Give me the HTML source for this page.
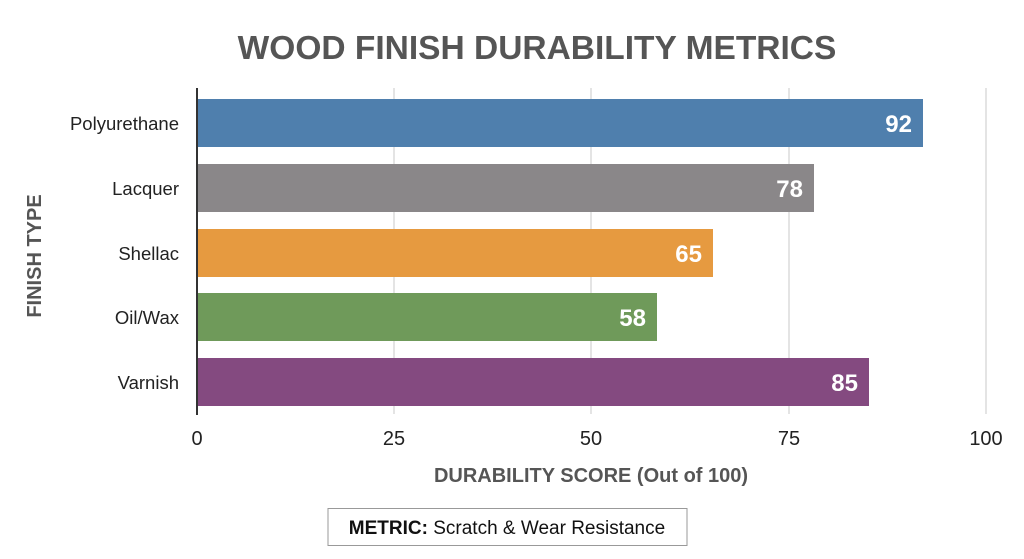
<!DOCTYPE html>
<html><head><meta charset="utf-8"><style>
html,body{margin:0;padding:0;background:#fff;}
svg{display:block;font-family:"Liberation Sans",sans-serif;}
</style></head><body>
<svg width="1024" height="559" viewBox="0 0 1024 559" xmlns="http://www.w3.org/2000/svg">
<rect width="1024" height="559" fill="#fff"/>
<text x="537" y="59" text-anchor="middle" font-size="33.5" font-weight="bold" fill="#555">WOOD FINISH DURABILITY METRICS</text>
<g stroke="#dcdcdc" stroke-width="1.5">
<line x1="394" y1="88" x2="394" y2="414"/>
<line x1="591" y1="88" x2="591" y2="414"/>
<line x1="789" y1="88" x2="789" y2="414"/>
<line x1="986" y1="88" x2="986" y2="414"/>
</g>
<rect x="197" y="99" width="726" height="48" fill="#4f7fad"/>
<rect x="197" y="164" width="617" height="48" fill="#8a8789"/>
<rect x="197" y="229" width="516" height="48" fill="#e69a40"/>
<rect x="197" y="293" width="460" height="48" fill="#6f9a5a"/>
<rect x="197" y="358" width="672" height="48" fill="#844a80"/>
<line x1="197" y1="88" x2="197" y2="415" stroke="#333" stroke-width="2"/>
<g font-size="24" font-weight="bold" fill="#fff" text-anchor="end">
<text x="912" y="132">92</text>
<text x="803" y="197">78</text>
<text x="702" y="262">65</text>
<text x="646" y="326">58</text>
<text x="858" y="391">85</text>
</g>
<g font-size="18.5" fill="#222" text-anchor="end">
<text x="179" y="130">Polyurethane</text>
<text x="179" y="195">Lacquer</text>
<text x="179" y="260">Shellac</text>
<text x="179" y="324">Oil/Wax</text>
<text x="179" y="389">Varnish</text>
</g>
<g font-size="20" fill="#222" text-anchor="middle">
<text x="197" y="445">0</text>
<text x="394" y="445">25</text>
<text x="591" y="445">50</text>
<text x="789" y="445">75</text>
<text x="986" y="445">100</text>
</g>
<text x="591" y="482" text-anchor="middle" font-size="20" font-weight="bold" fill="#555">DURABILITY SCORE (Out of 100)</text>
<text transform="translate(41,256) rotate(-90)" text-anchor="middle" font-size="20" font-weight="bold" fill="#555">FINISH TYPE</text>
<rect x="328" y="508.5" width="359" height="37" fill="#fff" stroke="#999" stroke-width="1"/>
<text x="507" y="534" text-anchor="middle" font-size="19" fill="#111"><tspan font-weight="bold">METRIC:</tspan> Scratch &amp; Wear Resistance</text>
</svg>
</body></html>
